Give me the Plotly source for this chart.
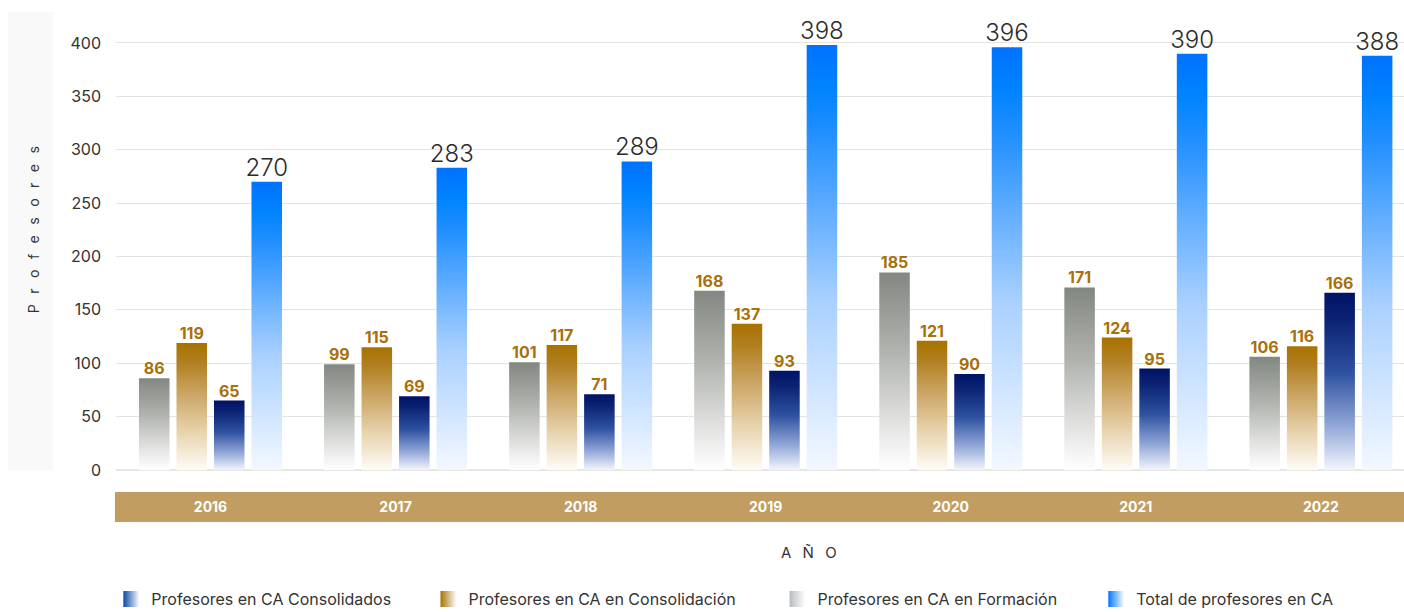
import plotly.graph_objects as go

# ---- data ----
years = ["2016", "2017", "2018", "2019", "2020", "2021", "2022"]
formacion = [86, 99, 101, 168, 185, 171, 106]
consolidacion = [119, 115, 117, 137, 121, 124, 116]
consolidados = [65, 69, 71, 93, 90, 95, 166]
total = [270, 283, 289, 398, 396, 390, 388]
y_ticks = [0, 50, 100, 150, 200, 250, 300, 350, 400]

names = {
    "formacion": "Profesores en CA en Formación",
    "consolidacion": "Profesores en CA en Consolidación",
    "consolidados": "Profesores en CA Consolidados",
    "total": "Total de profesores en CA",
}

# ---- styles ----
scales = {
    "formacion": [[0, "#ffffff"], [0.3, "#dadbd9"], [0.6, "#b0b3ae"], [1, "#838781"]],
    "consolidacion": [[0, "#fffcf6"], [0.3, "#e8d3ae"], [0.6, "#cba563"], [0.85, "#b17f20"], [1, "#a87200"]],
    "consolidados": [[0, "#f2f5fc"], [0.25, "#92a7d8"], [0.55, "#2e51a0"], [0.85, "#0b2272"], [1, "#001266"]],
    "total": [[0, "#f3f8ff"], [0.4, "#a9d0ff"], [0.8, "#1f8eff"], [0.9, "#0083ff"], [1, "#0072ff"]],
}
legend_end = {
    "formacion": "#b9bcbf",
    "consolidacion": "#a87200",
    "consolidados": "#0a48a6",
    "total": "#0076ff",
}
order = ["formacion", "consolidacion", "consolidados", "total"]
series = {"formacion": formacion, "consolidacion": consolidacion,
          "consolidados": consolidados, "total": total}
legend_slot = {"consolidados": ("legend", -0.0036), "consolidacion": ("legend2", 0.2426),
               "formacion": ("legend3", 0.5136), "total": ("legend4", 0.7611)}

step = 0.2026
bar_w = 0.165
offsets = [(-1.5 + k) * step for k in range(4)]

FONT = "Inter"
fig = go.Figure()

for k, key in enumerate(order):
    vals = series[key]
    for i, v in enumerate(vals):
        c = i + offsets[k]
        x0, x1 = c - bar_w / 2, c + bar_w / 2
        fig.add_trace(go.Scatter(
            x=[x0, x1, x1, x0, x0], y=[0, 0, v, v, 0],
            mode="lines", fill="toself", line=dict(width=0),
            fillgradient=dict(type="vertical", colorscale=scales[key], start=0, stop=v),
            showlegend=False, legendgroup=key, hoverinfo="text",
            text=f"{names[key]} {years[i]}: {v}", hoveron="fills",
        ))
    xs = [i + offsets[k] for i in range(len(vals))]
    if key == "total":
        tf = dict(family=FONT, size=24, color="#2b2b2b", weight=300)
    else:
        tf = dict(family=FONT, size=16, color="#a86f0a", weight="bold")
    fig.add_trace(go.Scatter(
        x=xs, y=vals, mode="text", text=[str(v) for v in vals],
        textposition="top center", textfont=tf, showlegend=False,
        hoverinfo="skip", cliponaxis=False,
    ))

# legend-only entries with horizontal gradient swatches, one legend each
legend_layouts = {}
for key in ["consolidados", "consolidacion", "formacion", "total"]:
    lg, lx = legend_slot[key]
    fig.add_trace(go.Scatter(
        x=[None], y=[None], mode="markers", name=names[key], legendgroup=key,
        legend=lg,
        marker=dict(symbol="square", size=16, color=legend_end[key],
                    gradient=dict(type="horizontal", color="#ffffff")),
    ))
    legend_layouts[lg] = dict(
        orientation="h", x=lx, xanchor="left", yref="container", y=0.0212, yanchor="middle",
        font=dict(family=FONT, size=16, color="#333333"), bgcolor="rgba(0,0,0,0)",
    )

fig.update_layout(
    width=1404, height=612,
    margin=dict(l=116, r=0, t=20, b=142),
    paper_bgcolor="white", plot_bgcolor="white",
    font=dict(family=FONT, color="#333333"),
    showlegend=True,
    xaxis=dict(range=[-0.5106, 6.449], tickvals=list(range(len(years))), ticktext=years,
               showgrid=False, zeroline=False, showline=False, ticks="",
               tickfont=dict(family=FONT, size=14, color="white", weight="bold"),
               ticklabelstandoff=27, fixedrange=True),
    yaxis=dict(range=[0, 421.5], tickvals=y_ticks, showgrid=True, gridcolor="#e3e3df",
               gridwidth=1.3, zeroline=True, zerolinecolor="#e6e6e2", zerolinewidth=2,
               showline=False, ticks="", ticklabelstandoff=14,
               tickfont=dict(family=FONT, size=16, color="#333333"), fixedrange=True),
    shapes=[
        dict(type="rect", xref="paper", yref="paper", x0=-0.0839, x1=-0.0489,
             y0=0.0, y1=1.0178, fillcolor="#f9f9f9", line=dict(width=0), layer="below"),
        dict(type="rect", xref="paper", yref="paper", x0=-0.0008, x1=1.0,
             y0=-0.1156, y1=-0.0489, fillcolor="#c29d61", line=dict(width=0), layer="below"),
    ],
    annotations=[
        dict(text="P\u2002\u2005r\u2002\u2005o\u2002\u2005f\u2002\u2005e\u2002\u2005s\u2002\u2005o\u2002\u2005r\u2002\u2005e\u2002\u2005s",
             xref="paper", yref="paper", x=-0.0644, y=0.533, xanchor="center", yanchor="middle",
             textangle=-90, showarrow=False, font=dict(family=FONT, size=14, color="#333333")),
        dict(text="A\u2002\u2005\u00d1\u2002\u2005O", xref="paper", yref="paper", x=0.538, y=-0.184,
             xanchor="center", yanchor="middle",
             showarrow=False, font=dict(family=FONT, size=15, color="#333333")),
    ],
    **legend_layouts,
)

fig.write_html("out.html", config={"displayModeBar": False},
               post_script="document.body.style.margin='0';")
